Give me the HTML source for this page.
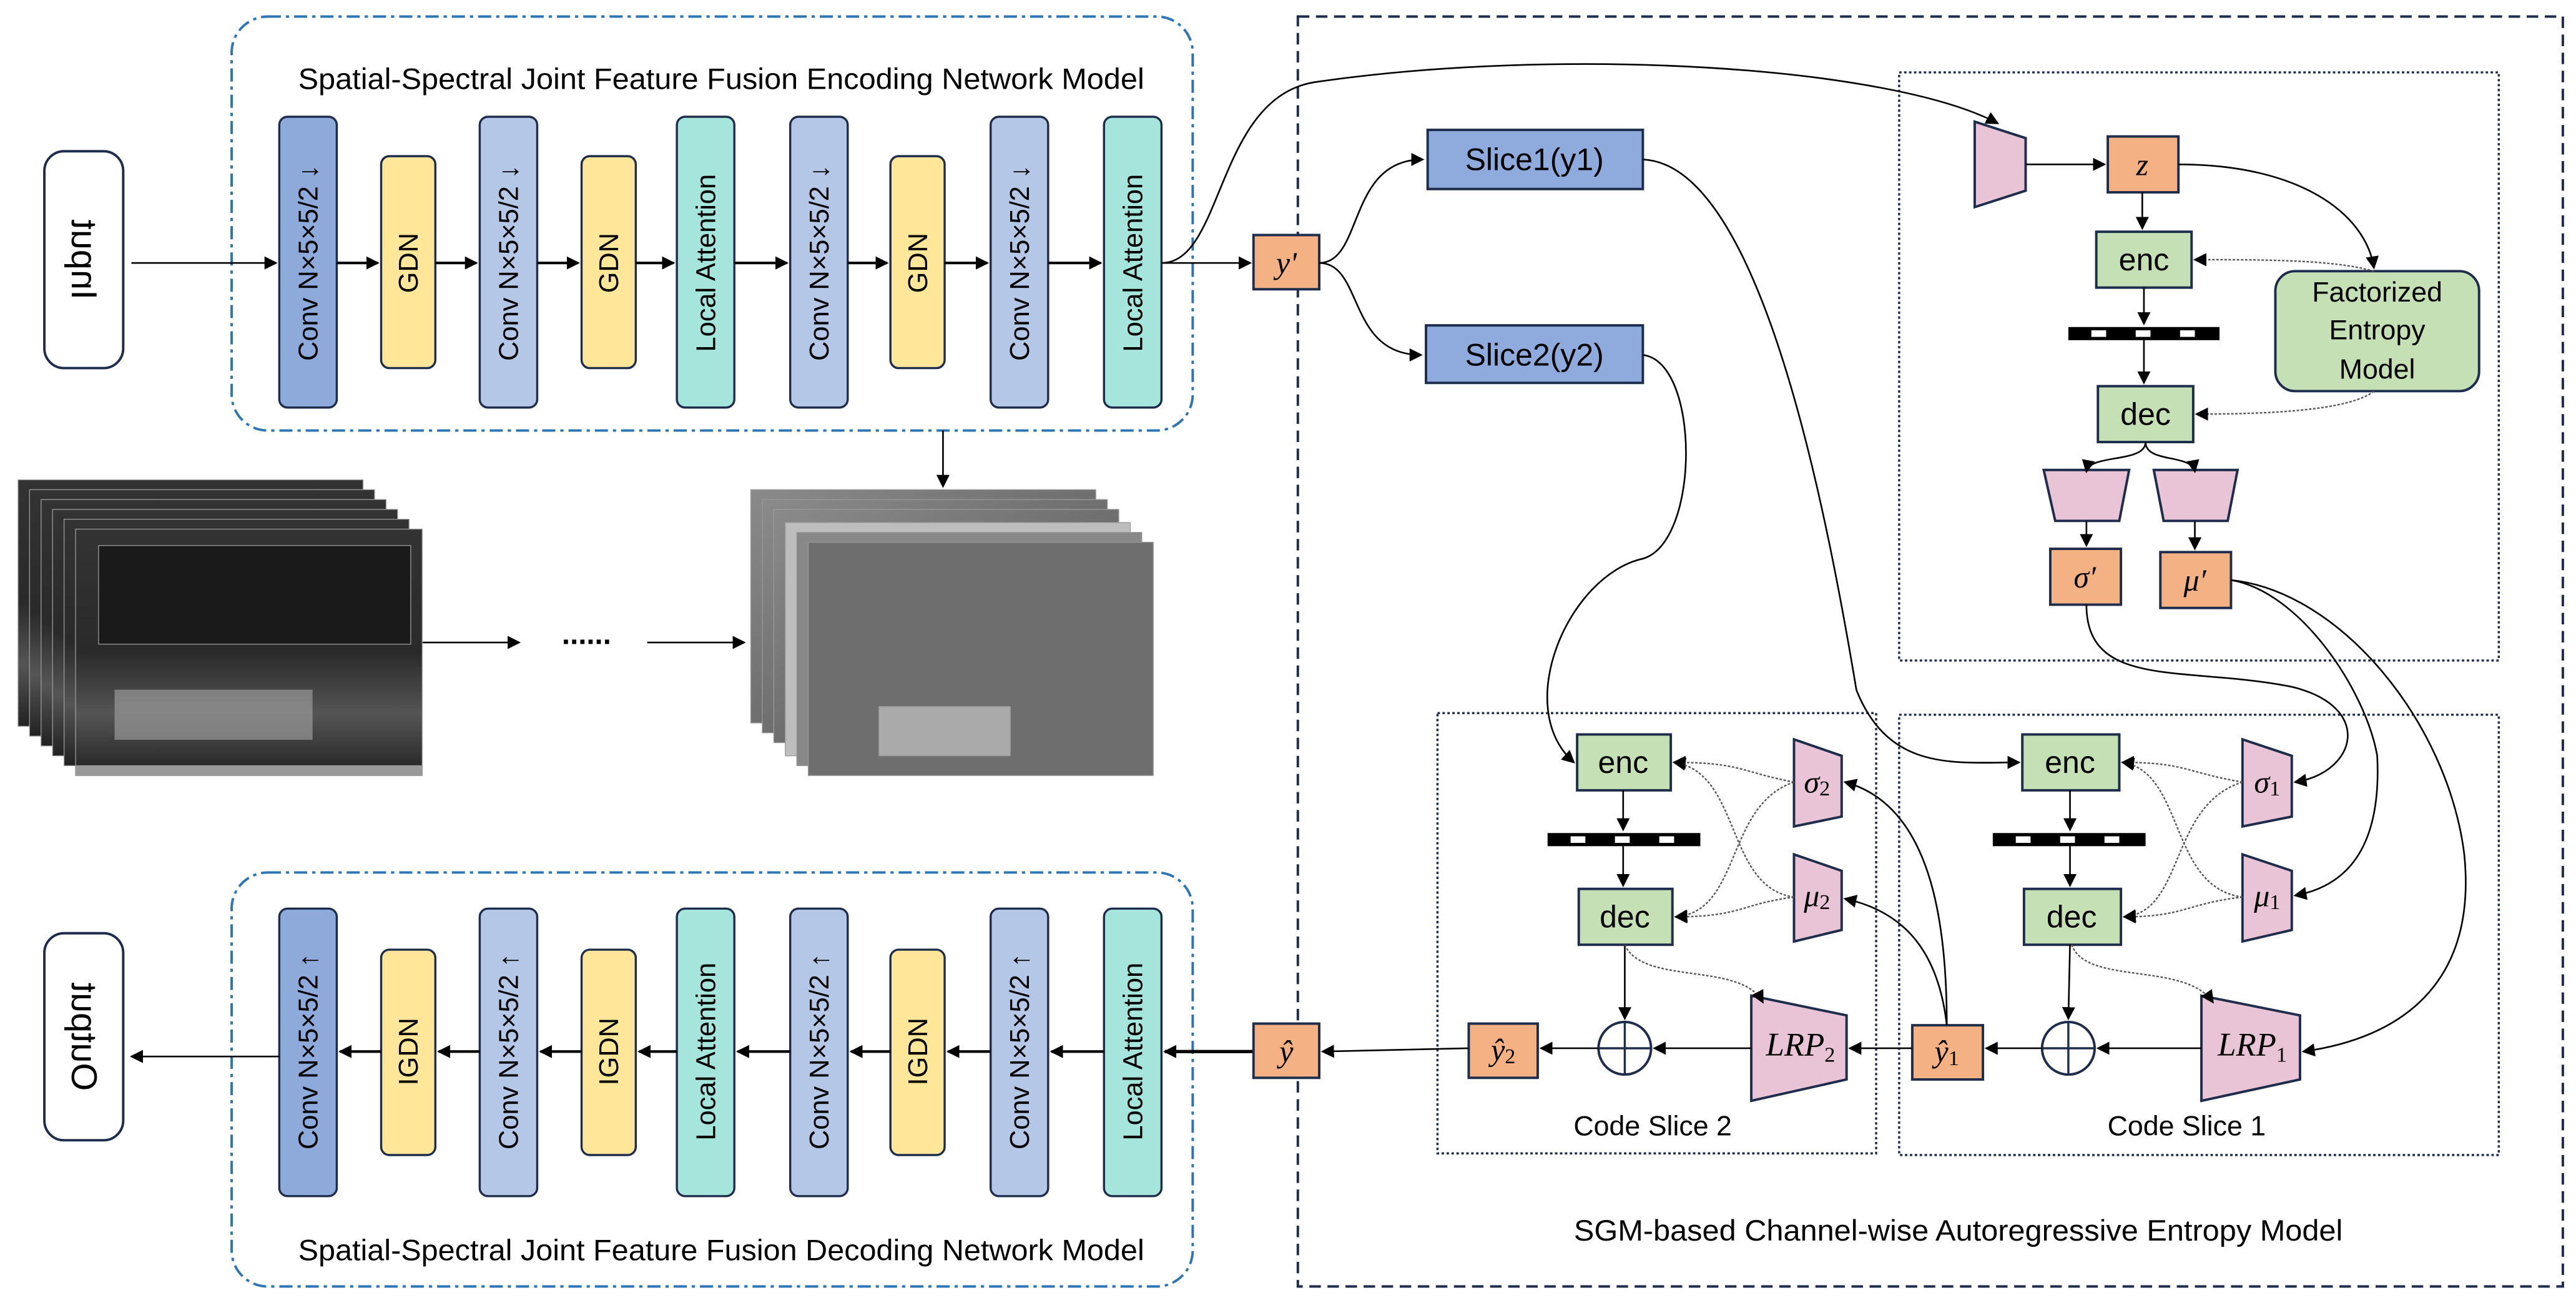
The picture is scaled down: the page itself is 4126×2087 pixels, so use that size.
<!DOCTYPE html>
<html><head><meta charset="utf-8"><style>
html,body{margin:0;padding:0;background:#fff;}
svg{display:block;}
text{font-family:"Liberation Sans",sans-serif;}
.n{font-family:"Liberation Sans Narrow","Liberation Sans",sans-serif;}
.m{font-family:"Liberation Serif",serif;font-style:italic;}
</style></head><body>
<svg width="4126" height="2087" viewBox="0 0 1568 793" xmlns="http://www.w3.org/2000/svg">
<defs>
<marker id="a" markerWidth="8" markerHeight="8" refX="7" refY="4" orient="auto" markerUnits="userSpaceOnUse"><path d="M0,0 L8,4 L0,8 z" fill="#000"/></marker>
<linearGradient id="dk" x1="0" y1="0" x2="0" y2="1"><stop offset="0" stop-color="#333"/><stop offset="0.5" stop-color="#2a2a2a"/><stop offset="0.75" stop-color="#555"/><stop offset="1" stop-color="#222"/></linearGradient>
<linearGradient id="gy" x1="0" y1="0" x2="1" y2="1"><stop offset="0" stop-color="#8a8a8a"/><stop offset="0.6" stop-color="#6a6a6a"/><stop offset="1" stop-color="#7a7a7a"/></linearGradient>
</defs>
<g fill="none" stroke="#000" stroke-width="1">
<rect x="141" y="10" width="585" height="252" rx="22" stroke="#2e75b6" stroke-width="1.5" stroke-dasharray="8,3,2,3"/>
<rect x="141" y="531" width="585" height="252" rx="22" stroke="#2e75b6" stroke-width="1.5" stroke-dasharray="8,3,2,3"/>
<rect x="790" y="10" width="770" height="773" stroke="#1f2d4d" stroke-width="1.5" stroke-dasharray="7,4"/>
<rect x="1156" y="44" width="365" height="358" stroke="#1f2d4d" stroke-width="1.3" stroke-dasharray="1.5,1.5"/>
<rect x="875" y="434" width="267" height="268" stroke="#1f2d4d" stroke-width="1.3" stroke-dasharray="1.5,1.5"/>
<rect x="1156" y="435" width="365" height="268" stroke="#1f2d4d" stroke-width="1.3" stroke-dasharray="1.5,1.5"/>
</g>
<text x="439" y="54" text-anchor="middle" font-size="18" textLength="515" lengthAdjust="spacingAndGlyphs" class="n">Spatial-Spectral Joint Feature Fusion Encoding Network Model</text>
<text x="439" y="767" text-anchor="middle" font-size="18" textLength="515" lengthAdjust="spacingAndGlyphs" class="n">Spatial-Spectral Joint Feature Fusion Decoding Network Model</text>
<text x="1192" y="755" text-anchor="middle" font-size="18" textLength="468" lengthAdjust="spacingAndGlyphs" class="n">SGM-based Channel-wise Autoregressive Entropy Model</text>
<text x="1006" y="691" text-anchor="middle" font-size="17" class="n">Code Slice 2</text>
<text x="1331" y="691" text-anchor="middle" font-size="17" class="n">Code Slice 1</text>

<rect x="27" y="92" width="48" height="132" rx="12" fill="#fff" stroke="#1f2d4d" stroke-width="1.5"/>
<text transform="translate(51,158) rotate(90) scale(-1,1)" text-anchor="middle" dominant-baseline="central" font-size="22">Input</text>
<rect x="27" y="568" width="48" height="126" rx="12" fill="#fff" stroke="#1f2d4d" stroke-width="1.5"/>
<text transform="translate(51,631) rotate(90) scale(-1,1)" text-anchor="middle" dominant-baseline="central" font-size="22">Output</text>

<g stroke="#1f2d4d" stroke-width="1.3">
<rect x="170" y="71" width="35" height="177" rx="5" fill="#8eaadb"/>
<rect x="232" y="95" width="33" height="129" rx="5" fill="#ffe699"/>
<rect x="292" y="71" width="35" height="177" rx="5" fill="#b4c7e7"/>
<rect x="354" y="95" width="33" height="129" rx="5" fill="#ffe699"/>
<rect x="412" y="71" width="35" height="177" rx="5" fill="#a5e5dc"/>
<rect x="481" y="71" width="35" height="177" rx="5" fill="#b4c7e7"/>
<rect x="542" y="95" width="33" height="129" rx="5" fill="#ffe699"/>
<rect x="603" y="71" width="35" height="177" rx="5" fill="#b4c7e7"/>
<rect x="672" y="71" width="35" height="177" rx="5" fill="#a5e5dc"/>
<rect x="170" y="553" width="35" height="175" rx="5" fill="#8eaadb"/>
<rect x="232" y="578" width="33" height="125" rx="5" fill="#ffe699"/>
<rect x="292" y="553" width="35" height="175" rx="5" fill="#b4c7e7"/>
<rect x="354" y="578" width="33" height="125" rx="5" fill="#ffe699"/>
<rect x="412" y="553" width="35" height="175" rx="5" fill="#a5e5dc"/>
<rect x="481" y="553" width="35" height="175" rx="5" fill="#b4c7e7"/>
<rect x="542" y="578" width="33" height="125" rx="5" fill="#ffe699"/>
<rect x="603" y="553" width="35" height="175" rx="5" fill="#b4c7e7"/>
<rect x="672" y="553" width="35" height="175" rx="5" fill="#a5e5dc"/>
</g>
<g font-size="16.5" text-anchor="middle" dominant-baseline="central">
<text transform="translate(188,160) rotate(-90)">Conv N×5×5/2 ↓</text>
<text transform="translate(249,160) rotate(-90)">GDN</text>
<text transform="translate(310,160) rotate(-90)">Conv N×5×5/2 ↓</text>
<text transform="translate(371,160) rotate(-90)">GDN</text>
<text transform="translate(430,160) rotate(-90)">Local Attention</text>
<text transform="translate(499,160) rotate(-90)">Conv N×5×5/2 ↓</text>
<text transform="translate(559,160) rotate(-90)">GDN</text>
<text transform="translate(621,160) rotate(-90)">Conv N×5×5/2 ↓</text>
<text transform="translate(690,160) rotate(-90)">Local Attention</text>
<text transform="translate(188,640) rotate(-90)">Conv N×5×5/2 ↑</text>
<text transform="translate(249,640) rotate(-90)">IGDN</text>
<text transform="translate(310,640) rotate(-90)">Conv N×5×5/2 ↑</text>
<text transform="translate(371,640) rotate(-90)">IGDN</text>
<text transform="translate(430,640) rotate(-90)">Local Attention</text>
<text transform="translate(499,640) rotate(-90)">Conv N×5×5/2 ↑</text>
<text transform="translate(559,640) rotate(-90)">IGDN</text>
<text transform="translate(621,640) rotate(-90)">Conv N×5×5/2 ↑</text>
<text transform="translate(690,640) rotate(-90)">Local Attention</text>
</g>
<g stroke="#000" stroke-width="1.6" marker-end="url(#a)">
<line x1="80" y1="160" x2="168" y2="160" stroke-width="1"/>
<line x1="205" y1="160" x2="230" y2="160"/>
<line x1="265" y1="160" x2="290" y2="160"/>
<line x1="327" y1="160" x2="352" y2="160"/>
<line x1="387" y1="160" x2="410" y2="160"/>
<line x1="447" y1="160" x2="479" y2="160"/>
<line x1="516" y1="160" x2="540" y2="160"/>
<line x1="575" y1="160" x2="601" y2="160"/>
<line x1="638" y1="160" x2="670" y2="160"/>
<line x1="707" y1="160" x2="761" y2="160" stroke-width="1"/>
<line x1="232" y1="640" x2="207" y2="640"/>
<line x1="292" y1="640" x2="267" y2="640"/>
<line x1="354" y1="640" x2="329" y2="640"/>
<line x1="412" y1="640" x2="389" y2="640"/>
<line x1="481" y1="640" x2="449" y2="640"/>
<line x1="542" y1="640" x2="518" y2="640"/>
<line x1="603" y1="640" x2="577" y2="640"/>
<line x1="672" y1="640" x2="640" y2="640"/>
<line x1="763" y1="640" x2="709" y2="640" stroke-width="2"/>
<line x1="170" y1="643" x2="80" y2="643" stroke-width="1"/>
<line x1="574" y1="262" x2="574" y2="296" stroke-width="1"/>
<line x1="257" y1="391" x2="316" y2="391" stroke-width="1"/>
<line x1="394" y1="391" x2="453" y2="391" stroke-width="1"/>
</g>
<text x="357" y="392" text-anchor="middle" font-size="18" font-weight="bold">......</text>

<g stroke="#999" stroke-width="0.5">
<rect x="11" y="292" width="210" height="150" fill="url(#dk)"/>
<rect x="18" y="298" width="210" height="150" fill="url(#dk)"/>
<rect x="25" y="304" width="210" height="150" fill="url(#dk)"/>
<rect x="32" y="310" width="210" height="150" fill="url(#dk)"/>
<rect x="39" y="316" width="210" height="150" fill="url(#dk)"/>
<rect x="46" y="322" width="211" height="150" fill="url(#dk)"/>
<rect x="46" y="466" width="211" height="6" fill="#999"/>
<rect x="60" y="332" width="190" height="60" fill="#1a1a1a"/>
<rect x="70" y="420" width="120" height="30" fill="#9a9a9a" opacity="0.7"/>
<rect x="457" y="298" width="210" height="142" fill="url(#gy)"/>
<rect x="464" y="304" width="210" height="142" fill="url(#gy)"/>
<rect x="471" y="310" width="210" height="142" fill="url(#gy)"/>
<rect x="478" y="318" width="210" height="142" fill="#bdbdbd"/>
<rect x="485" y="324" width="210" height="142" fill="#888"/>
<rect x="492" y="330" width="210" height="142" fill="#6e6e6e"/>
<rect x="535" y="430" width="80" height="30" fill="#aaa"/>
</g>

<g stroke="#1f2d4d" stroke-width="1.5">
<rect x="763" y="143" width="40" height="33" fill="#f4b183"/>
<rect x="763" y="623" width="40" height="33" fill="#f4b183"/>
<rect x="869" y="79" width="131" height="36" fill="#8faadc"/>
<rect x="868" y="198" width="132" height="35" fill="#8faadc"/>
<path d="M1202,74 L1233,84 L1233,116 L1202,126 Z" fill="#e8c4d6"/>
<rect x="1283" y="83" width="43" height="34" fill="#f4b183"/>
<rect x="1276" y="141" width="58" height="34" fill="#c5e0b4"/>
<rect x="1277" y="235" width="58" height="34" fill="#c5e0b4"/>
<rect x="1385" y="165" width="124" height="73" rx="12" fill="#c5e0b4"/>
<path d="M1244,286 L1296,286 L1290,317 L1251,317 Z" fill="#e8c4d6"/>
<path d="M1311,286 L1362,286 L1356,317 L1317,317 Z" fill="#e8c4d6"/>
<rect x="1248" y="334" width="43" height="34" fill="#f4b183"/>
<rect x="1315" y="336" width="43" height="34" fill="#f4b183"/>
<rect x="960" y="447" width="57" height="34" fill="#c5e0b4"/>
<rect x="961" y="541" width="57" height="34" fill="#c5e0b4"/>
<path d="M1092,450 L1121,460 L1121,497 L1092,503 Z" fill="#e8c4d6"/>
<path d="M1092,520 L1121,530 L1121,566 L1092,573 Z" fill="#e8c4d6"/>
<path d="M1066,606 L1124,618 L1124,657 L1066,670 Z" fill="#e8c4d6"/>
<circle cx="989" cy="638" r="16" fill="#fff"/>
<rect x="894" y="623" width="42" height="33" fill="#f4b183"/>
<rect x="1231" y="447" width="59" height="34" fill="#c5e0b4"/>
<rect x="1232" y="541" width="59" height="34" fill="#c5e0b4"/>
<path d="M1365,450 L1395,460 L1395,497 L1365,503 Z" fill="#e8c4d6"/>
<path d="M1365,520 L1395,530 L1395,566 L1365,573 Z" fill="#e8c4d6"/>
<path d="M1340,606 L1400,618 L1400,657 L1340,670 Z" fill="#e8c4d6"/>
<circle cx="1259" cy="638" r="16" fill="#fff"/>
<rect x="1164" y="624" width="43" height="33" fill="#f4b183"/>
</g>
<g stroke="#1f2d4d" stroke-width="1.3">
<line x1="973" y1="638" x2="1005" y2="638"/><line x1="989" y1="622" x2="989" y2="654"/>
<line x1="1243" y1="638" x2="1275" y2="638"/><line x1="1259" y1="622" x2="1259" y2="654"/>
</g>
<g>
<rect x="1259" y="199" width="92" height="8" fill="#000"/>
<rect x="1273" y="201" width="9" height="4" fill="#fff"/><rect x="1300" y="201" width="9" height="4" fill="#fff"/><rect x="1327" y="201" width="9" height="4" fill="#fff"/>
<rect x="942" y="507" width="93" height="8" fill="#000"/>
<rect x="956" y="509" width="9" height="4" fill="#fff"/><rect x="983" y="509" width="9" height="4" fill="#fff"/><rect x="1010" y="509" width="9" height="4" fill="#fff"/>
<rect x="1213" y="507" width="93" height="8" fill="#000"/>
<rect x="1227" y="509" width="9" height="4" fill="#fff"/><rect x="1254" y="509" width="9" height="4" fill="#fff"/><rect x="1281" y="509" width="9" height="4" fill="#fff"/>
</g>
<g text-anchor="middle" dominant-baseline="central">
<text x="783" y="160" font-size="19" class="m">y'</text>
<text x="783" y="640" font-size="19" class="m">ŷ</text>
<text x="934" y="97" font-size="19" class="n">Slice1(y1)</text>
<text x="934" y="216" font-size="19" class="n">Slice2(y2)</text>
<text x="1304" y="100" font-size="19" class="m">z</text>
<text x="1305" y="158" font-size="19" class="n">enc</text>
<text x="1306" y="252" font-size="19" class="n">dec</text>
<text x="1447" y="178" font-size="17" class="n">Factorized</text>
<text x="1447" y="201" font-size="17" class="n">Entropy</text>
<text x="1447" y="225" font-size="17" class="n">Model</text>
<text x="1269" y="351" font-size="19" class="m">σ′</text>
<text x="1336" y="353" font-size="19" class="m">μ′</text>
<text x="988" y="464" font-size="19" class="n">enc</text>
<text x="989" y="558" font-size="19" class="n">dec</text>
<text x="1106" y="476" font-size="19" class="m">σ<tspan font-size="13" dy="4" font-style="normal">2</tspan></text>
<text x="1106" y="545" font-size="19" class="m">μ<tspan font-size="13" dy="4" font-style="normal">2</tspan></text>
<text x="1096" y="636" font-size="20" class="m">LRP<tspan font-size="13" dy="6" font-style="normal">2</tspan></text>
<text x="915" y="639" font-size="19" class="m">ŷ<tspan font-size="13" dy="4" font-style="normal">2</tspan></text>
<text x="1260" y="464" font-size="19" class="n">enc</text>
<text x="1261" y="558" font-size="19" class="n">dec</text>
<text x="1380" y="476" font-size="19" class="m">σ<tspan font-size="13" dy="4" font-style="normal">1</tspan></text>
<text x="1380" y="545" font-size="19" class="m">μ<tspan font-size="13" dy="4" font-style="normal">1</tspan></text>
<text x="1371" y="636" font-size="20" class="m">LRP<tspan font-size="13" dy="6" font-style="normal">1</tspan></text>
<text x="1185" y="640" font-size="19" class="m">ŷ<tspan font-size="13" dy="4" font-style="normal">1</tspan></text>
</g>

<g fill="none" stroke="#000" stroke-width="1" marker-end="url(#a)">
<path d="M707,160 C745,160 740,60 800,50 C950,28 1150,40 1216,75"/>
<path d="M803,160 C830,160 820,97 866,97"/>
<path d="M803,160 C830,160 820,216 865,216"/>
<path d="M1000,97 C1070,100 1110,300 1130,420 C1150,470 1190,464 1229,464"/>
<path d="M1000,216 C1035,220 1035,330 1000,340 C955,350 920,430 958,464"/>
<path d="M1233,100 L1281,100"/>
<path d="M1304,117 L1304,139"/>
<path d="M1326,100 C1400,100 1440,130 1445,163"/>
<path d="M1305,175 L1305,197"/>
<path d="M1305,207 L1305,233"/>
<path d="M1306,269 C1306,282 1272,276 1270,287"/>
<path d="M1306,269 C1306,282 1334,276 1336,287"/>
<path d="M1270,317 L1270,332"/>
<path d="M1336,317 L1336,334"/>
<path d="M1270,368 C1270,420 1330,405 1395,418 C1445,430 1435,470 1397,476"/>
<path d="M1358,353 C1400,360 1440,420 1447,460 C1450,520 1425,540 1397,545"/>
<path d="M1358,353 C1425,360 1490,440 1500,520 C1508,600 1460,632 1402,640"/>
<path d="M1185,624 C1185,560 1175,490 1123,476"/>
<path d="M1185,624 C1180,580 1160,555 1123,547"/>
<path d="M988,481 L988,505"/><path d="M988,515 L988,539"/>
<path d="M989,575 L989,620"/>
<path d="M1260,481 L1260,505"/><path d="M1260,515 L1260,539"/>
<path d="M1260,575 L1259,620"/>
<path d="M1340,638 L1277,638"/>
<path d="M1243,638 L1209,638"/>
<path d="M1164,638 L1126,638"/>
<path d="M1066,638 L1007,638"/>
<path d="M973,638 L938,638"/>
<path d="M894,638 L805,640"/>
</g>
<g fill="none" stroke="#555" stroke-width="0.9" stroke-dasharray="1.5,1" marker-end="url(#a)">
<path d="M1445,165 C1420,158 1380,158 1336,158"/>
<path d="M1445,238 C1430,250 1380,252 1337,252"/>
<path d="M1092,476 C1060,470 1060,464 1019,464"/>
<path d="M1092,476 C1050,490 1060,555 1020,558"/>
<path d="M1092,546 C1050,540 1060,470 1019,464"/>
<path d="M1092,546 C1060,550 1060,558 1020,558"/>
<path d="M1365,476 C1330,470 1330,464 1292,464"/>
<path d="M1365,476 C1320,490 1330,555 1293,558"/>
<path d="M1365,546 C1320,540 1330,470 1292,464"/>
<path d="M1365,546 C1330,550 1330,558 1293,558"/>
<path d="M989,575 C1000,600 1060,585 1073,610"/>
<path d="M1261,575 C1270,600 1330,585 1347,610"/>
</g>
</svg>
</body></html>
